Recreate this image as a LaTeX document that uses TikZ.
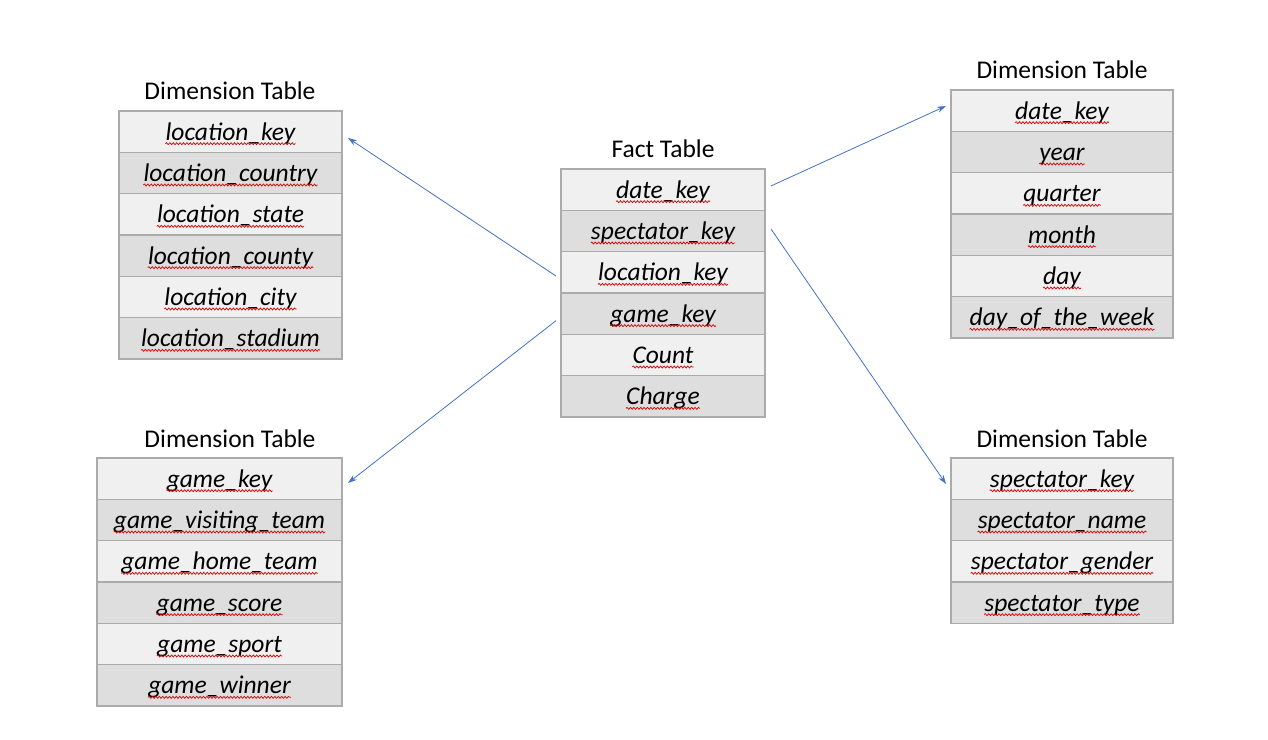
\documentclass[tikz,border=0pt]{standalone}
\usepackage{fontspec}
\setmainfont{Carlito}
\usetikzlibrary{arrows.meta,decorations.pathmorphing,calc}
\definecolor{rowA}{HTML}{F0F0F0}
\definecolor{rowB}{HTML}{DEDEDE}
\definecolor{edgegray}{HTML}{ABABAB}
\definecolor{arrowblue}{HTML}{4472C4}
\tikzset{
 rowbox/.style={draw=edgegray, line width=1.3pt, minimum width=#1, minimum height=41.33pt, inner sep=0pt, outer sep=0pt},
 fieldtxt/.style={inner sep=0pt, anchor=base, font=\fontsize{25.5}{30}\selectfont\itshape},
 titletxt/.style={inner sep=0pt, anchor=base, font=\fontsize{25.5}{30}\selectfont},
 squig/.style={draw=red!85!black, line width=0.7pt, decorate, decoration={snake, amplitude=1pt, segment length=3.4pt}},
 link/.style={draw=arrowblue, line width=0.8pt, -{Stealth[length=9pt,width=6pt]}},
}
\newcommand{\dbtable}[5]{%
  \pgfmathsetmacro{\tbcx}{(#2+#3)/2}%
  \pgfmathsetmacro{\tbw}{#3-#2}%
  \foreach \f [count=\i] in {#5} {
    \pgfmathsetmacro{\tbcy}{#4+(\i-0.5)*41.33}
    \ifodd\i\relax\def\tbrc{rowA}\else\def\tbrc{rowB}\fi
    \node[rowbox=\tbw pt, fill=\tbrc] (#1-\i) at (\tbcx,\tbcy) {};
    \node[fieldtxt] (#1-\i-t) at ([yshift=-8.5pt]#1-\i.center) {\f};
    \draw[squig] ([yshift=-3.5pt]#1-\i-t.base west) -- ([yshift=-3.5pt]#1-\i-t.base east);
  }%
}
\begin{document}
\begin{tikzpicture}[x=1pt,y=-1pt]
\useasboundingbox[fill=white] (0,0) rectangle (1268,739);
% titles
\node[titletxt] (loc-title) at (230,99.5) {Dimension Table};
\node[titletxt] (fact-title) at (663,157.5) {Fact Table};
\node[titletxt] (date-title) at (1062,78.5) {Dimension Table};
\node[titletxt] (game-title) at (230,447.5) {Dimension Table};
\node[titletxt] (spec-title) at (1062,447.5) {Dimension Table};
% tables
\dbtable{loc}{119}{342}{111}{location\_key,location\_country,location\_state,location\_county,location\_city,location\_stadium}
\dbtable{fact}{561}{765}{169}{date\_key,spectator\_key,location\_key,game\_key,Count,Charge}
\dbtable{date}{951}{1173}{90}{date\_key,year,quarter,month,day,day\_of\_the\_week}
\dbtable{game}{97}{342}{458}{game\_key,game\_visiting\_team,game\_home\_team,game\_score,game\_sport,game\_winner}
\dbtable{spec}{951}{1173}{458}{spectator\_key,spectator\_name,spectator\_gender,spectator\_type}
% connectors
\draw[link] ([xshift=-5pt,yshift=-3.7pt]fact-3.west) -- ([xshift=6pt,yshift=-6.3pt]loc-1.east);
\draw[link] ([xshift=-5pt,yshift=-7pt]fact-4.west) -- ([xshift=6pt,yshift=-4.3pt]game-1.east);
\draw[link] ([xshift=6pt,yshift=3.7pt]fact-1.east) -- ([xshift=-5pt,yshift=4.7pt]date-1.west);
\draw[link] ([xshift=6pt,yshift=2pt]fact-2.east) -- ([xshift=-5pt,yshift=-5.3pt]spec-1.west);
\end{tikzpicture}
\end{document}
